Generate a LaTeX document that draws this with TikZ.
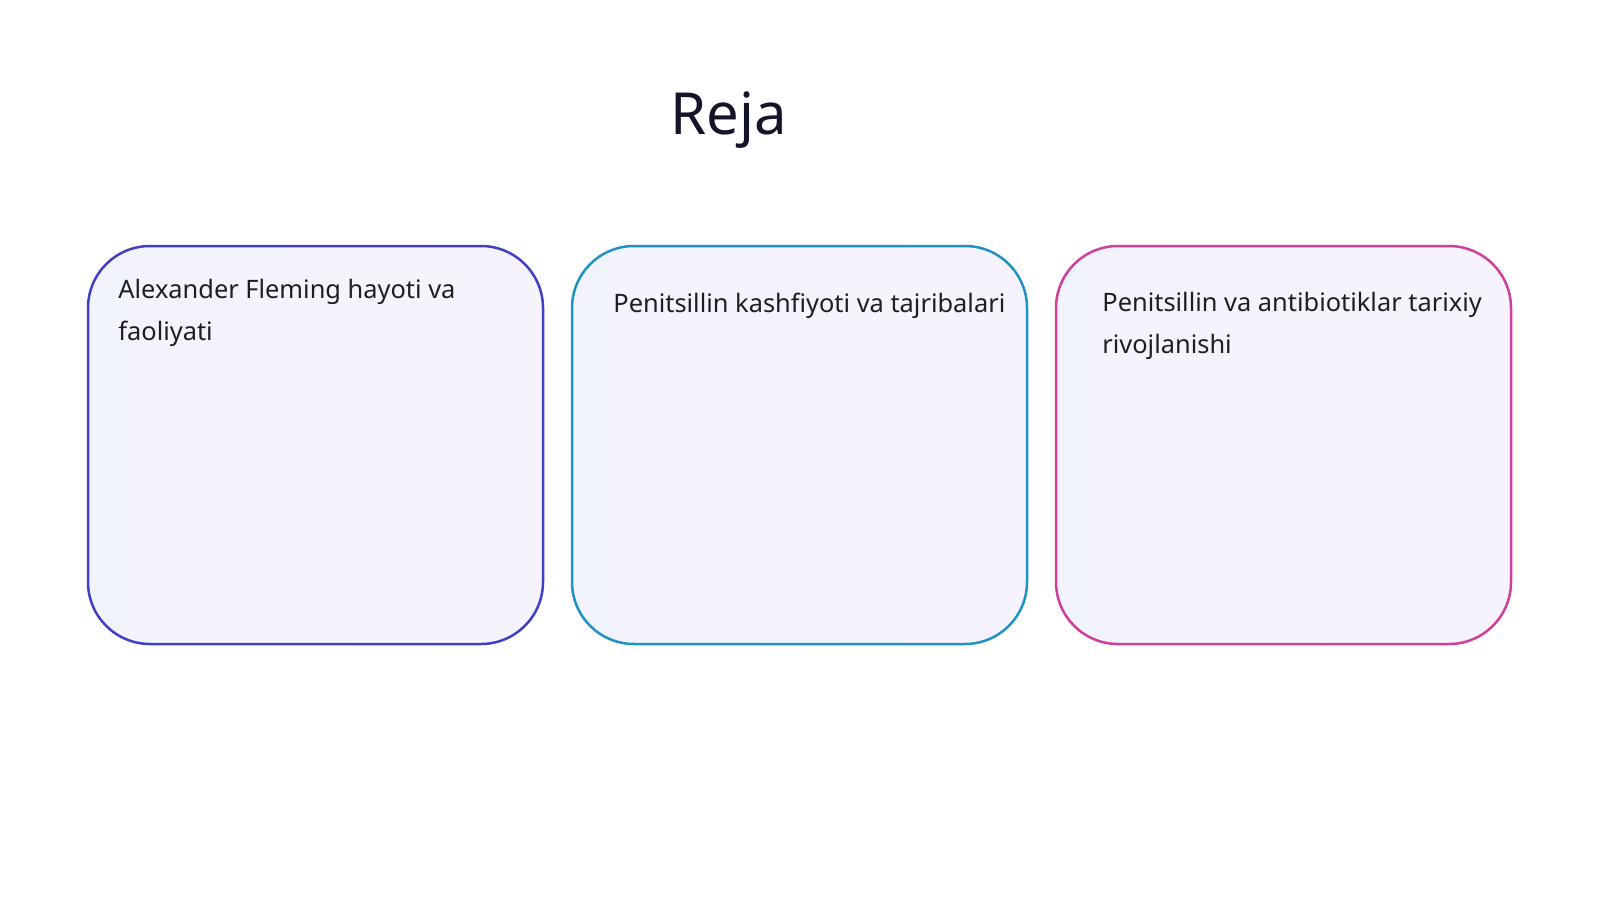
\documentclass[tikz,border=0pt]{standalone}
\usepackage{fontspec}
\setmainfont{Noto Sans}
\usetikzlibrary{positioning}
\definecolor{indigoline}{HTML}{4040C4}
\definecolor{skyline}{HTML}{1E92C4}
\definecolor{pinkline}{HTML}{CF3F9C}
\definecolor{cardleft}{HTML}{F1F3FD}
\definecolor{cardright}{HTML}{F7F3FC}
\definecolor{titleink}{HTML}{14142B}
\begin{document}
\begin{tikzpicture}[x=0.5pt, y=-0.5pt,
      card/.style={line width=1.25pt, left color=cardleft, right color=cardright, rounded corners=31pt},
      cardtext/.style={anchor=base west, inner sep=0pt, align=left,
                       font=\fontsize{12.7}{21}\selectfont, text=black!88}]
      \useasboundingbox (0,0) rectangle (1600,900);
      \node (title) [anchor=base, font=\fontsize{29}{35}\selectfont, text=titleink] at (729,134) {Reja};
      \draw [card, draw=indigoline] (88,246) rectangle (543,644);
      \draw [card, draw=skyline] (572,246) rectangle (1027,644);
      \draw [card, draw=pinkline] (1056,246) rectangle (1511,644);
      \node (life) [cardtext] at (118,340) {Alexander Fleming hayoti va\\faoliyati};
      \node (discovery) [cardtext] at (613,312) {Penitsillin kashfiyoti va tajribalari};
      \node (history) [cardtext] at (1102,353) {Penitsillin va antibiotiklar tarixiy\\rivojlanishi};
\end{tikzpicture}
\end{document}
